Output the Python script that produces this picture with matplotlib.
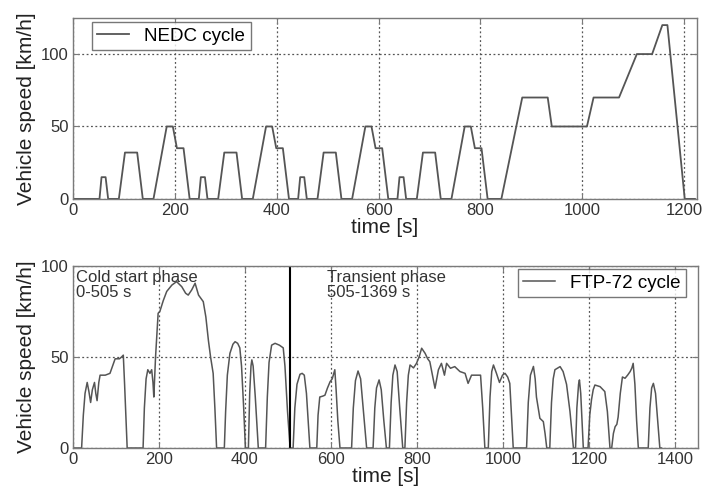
import matplotlib
matplotlib.use('Agg')
import matplotlib.pyplot as plt

plt.rcParams['font.family'] = ['Liberation Sans', 'DejaVu Sans']

# NEDC cycle breakpoints (time [s], speed [km/h])
nedc_t = [0, 52, 56, 64, 69, 90, 102, 126, 137, 158, 184, 196, 204, 217, 229,
          247, 251, 259, 264, 285, 297, 321, 332, 353, 379, 391, 399, 412, 424,
          442, 446, 454, 459, 480, 492, 516, 527, 548, 574, 586, 594, 607, 619,
          637, 641, 649, 654, 675, 687, 711, 722, 743, 769, 781, 789, 802, 814,
          841, 882, 932, 940, 1009, 1022, 1072, 1107, 1137, 1157, 1167, 1201, 1221]
nedc_v = [0, 0, 15, 15, 0, 0, 32, 32, 0, 0, 50, 50, 35, 35, 0,
          0, 15, 15, 0, 0, 32, 32, 0, 0, 50, 50, 35, 35, 0,
          0, 15, 15, 0, 0, 32, 32, 0, 0, 50, 50, 35, 35, 0,
          0, 15, 15, 0, 0, 32, 32, 0, 0, 50, 50, 35, 35, 0,
          0, 70, 70, 50, 50, 70, 70, 100, 100, 120, 120, 0, 0]

# FTP-72 cycle, approximate trace (one row per hill)
ftp_t = [0, 20, 24, 28, 33, 37, 41, 45, 50, 53, 56, 60, 63, 75, 86, 92, 98, 108, 113, 117, 120, 126,
         163, 166, 170, 174, 179, 183, 186, 188, 192, 198, 202, 210, 218, 230, 241, 253, 262, 268,
         276, 284, 292, 303, 309, 315, 320, 326, 330, 334,
         352, 355, 359, 365, 372, 377, 383, 388, 392, 397, 401,
         408, 411, 414, 416, 419, 424, 431,
         448, 452, 456, 462, 470, 480, 489, 493, 499, 505,
         512, 516, 521, 528, 533, 538, 543, 547, 551,
         567, 570, 574, 581, 586, 592, 598, 603, 609, 612, 616, 621,
         648, 652, 657, 663, 669, 675, 683,
         698, 702, 706, 712, 717, 723, 729,
         736, 740, 744, 749, 754, 760, 767,
         772, 776, 780, 784, 792, 799, 805, 811, 819, 825, 830, 836, 842, 850, 857, 864, 869,
         878, 888, 900, 912, 919, 927, 939, 948, 953, 958,
         966, 970, 974, 978, 985, 992, 999, 1005, 1011, 1016, 1020, 1024,
         1055, 1059, 1064, 1071, 1075, 1078, 1086, 1094, 1098, 1102,
         1109, 1113, 1117, 1121, 1133, 1140, 1148, 1156, 1164,
         1169, 1172, 1176, 1178, 1181, 1187,
         1198, 1202, 1206, 1210, 1214, 1226, 1237, 1243, 1249,
         1253, 1257, 1261, 1265, 1268, 1273, 1278, 1284, 1290, 1296, 1300, 1303, 1307, 1311, 1315,
         1338, 1342, 1346, 1350, 1355, 1360, 1365, 1369]
ftp_v = [0, 0, 18, 30, 36, 31, 25, 32, 36, 30, 26, 36, 40, 40, 41, 45, 49, 49, 50, 51, 35, 0,
         0, 22, 38, 43, 41, 43, 36, 28, 50, 74, 75, 81, 86, 89.5, 91.4, 88.6, 85, 84,
         86.8, 90.5, 84, 80.4, 72, 59, 50, 41, 22, 0,
         0, 20, 40, 52, 57, 58.4, 57.5, 55, 45, 22, 0,
         0, 30, 45, 48.4, 45, 28, 0,
         0, 28, 47, 56.5, 57.5, 56.5, 55, 45, 20, 0,
         0, 22, 35, 40.5, 41, 40, 30, 15, 0,
         0, 18, 28, 28.5, 29, 33, 36.4, 38, 43, 32, 15, 0,
         0, 22, 37, 42.3, 38, 22, 0,
         0, 22, 33, 37.4, 32, 15, 0,
         0, 25, 40, 45.6, 42, 22, 0,
         0, 25, 40, 45.6, 44, 46.5, 50, 54.8, 52, 49, 47.4, 40, 32.8, 43, 46.5, 40, 46.5,
         43.8, 44.7, 42, 41, 35.5, 40, 40, 40, 22, 0,
         0, 28, 42, 45.6, 41, 36, 40, 41, 39, 35.5, 18, 0,
         0, 25, 40, 44.8, 38, 28, 16.3, 14.5, 8, 0,
         0, 25, 38, 43, 44.7, 42, 35, 20, 0,
         0, 22, 35, 37.4, 30, 0,
         0, 18, 26.4, 32, 34.6, 33.7, 31, 20, 0,
         0, 8, 11.7, 13, 17, 30, 39, 38.3, 40, 42, 44, 46.5, 35, 15, 0,
         0, 22, 33, 35.5, 30, 15, 0, 0]

nedc_xticks = [0, 200, 400, 600, 800, 1000, 1200]
ftp_xticks = [0, 200, 400, 600, 800, 1000, 1200, 1400]
speed_ticks = [0, 50, 100]
phase_split = 505

line_col = '#555555'
frame_col = '#7a7a7a'

fig = plt.figure(figsize=(7.04, 4.96), dpi=100)
ax1 = fig.add_axes([0.1037, 0.599, 0.8863, 0.365])
ax2 = fig.add_axes([0.1037, 0.0968, 0.8873, 0.367])


def style_axes(ax, xticks, xmax, ymax):
    ax.set_xlim(0, xmax)
    ax.set_ylim(0, ymax)
    ax.set_xticks(xticks)
    ax.set_yticks(speed_ticks)
    ax.grid(True, linestyle=(0, (1.5, 2)), color='#555555', linewidth=0.9)
    ax.tick_params(direction='in', top=True, right=True, labelsize=12,
                   colors='#333333', length=4, color=frame_col, pad=3)
    for s in ax.spines.values():
        s.set_color(frame_col)
        s.set_linewidth(1.0)
    ax.set_xlabel('time [s]', fontsize=15, color='#222222', labelpad=0)
    ax.set_ylabel('Vehicle speed [km/h]', fontsize=15, color='#222222', labelpad=4)


ax1.plot(nedc_t, nedc_v, color=line_col, linewidth=1.3, label='NEDC cycle')
style_axes(ax1, nedc_xticks, 1225, 125)
leg1 = ax1.legend(loc='upper left', fontsize=13.5, frameon=True, fancybox=False,
                  edgecolor='#555555', handlelength=1.7, borderpad=0.3,
                  borderaxespad=0, bbox_to_anchor=(0.030, 0.978))
leg1.get_frame().set_linewidth(1.0)

ax2.plot(ftp_t, ftp_v, color=line_col, linewidth=1.1, label='FTP-72 cycle')
ax2.axvline(phase_split, color='black', linewidth=1.5)
style_axes(ax2, ftp_xticks, 1453, 100)
leg2 = ax2.legend(loc='upper right', fontsize=13.5, frameon=True, fancybox=False,
                  edgecolor='#555555', handlelength=1.7, borderpad=0.3,
                  borderaxespad=0, bbox_to_anchor=(0.982, 0.984))
leg2.get_frame().set_linewidth(1.0)

ax2.text(8, 98, 'Cold start phase\n0-505 s', fontsize=12, color='#333333',
         va='top', ha='left', linespacing=1.05)
ax2.text(590, 98, 'Transient phase\n505-1369 s', fontsize=12, color='#333333',
         va='top', ha='left', linespacing=1.05)

fig.savefig('out.png', dpi=100)
